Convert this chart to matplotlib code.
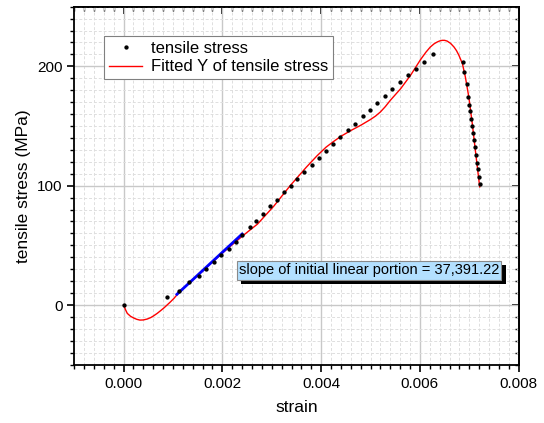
import numpy as np
import matplotlib
matplotlib.use("Agg")
import matplotlib.pyplot as plt
from matplotlib.ticker import MultipleLocator, FormatStrFormatter
import matplotlib.patheffects as pe

plt.rcParams['font.family'] = ['Liberation Sans', 'DejaVu Sans']

# measured points (strain, MPa)
strain = [0.0, 0.00087, 0.00112, 0.00132, 0.00152, 0.00167, 0.00183, 0.00198,
          0.00213, 0.00227, 0.0024, 0.00256, 0.00269, 0.00283, 0.00296,
          0.0031, 0.00325, 0.00339, 0.00352, 0.00366, 0.00381, 0.00395,
          0.0041, 0.00424, 0.00439, 0.00454, 0.00469, 0.00484, 0.00499,
          0.00513, 0.00529, 0.00544, 0.00559, 0.00575, 0.00592, 0.00609,
          0.00627, 0.00687, 0.0069, 0.00695, 0.00698, 0.007, 0.00701,
          0.00704, 0.00705, 0.00707, 0.00709, 0.00711, 0.00713, 0.00715,
          0.00717, 0.00719, 0.00721]
stress = [0.0, 6.7, 11.7, 19.0, 24.3, 29.8, 35.7, 41.8,
          47.0, 53.0, 59.0, 65.0, 70.8, 76.4, 82.6,
          88.4, 94.3, 99.8, 105.7, 111.5, 117.4, 123.0,
          128.9, 134.7, 140.6, 146.4, 152.0, 158.2, 163.8,
          169.6, 175.2, 180.8, 186.6, 192.5, 198.1, 203.9,
          210.0, 203.3, 195.0, 185.0, 174.3, 167.4, 162.6,
          156.2, 150.0, 144.2, 138.0, 132.2, 125.8, 119.4,
          113.6, 107.7, 101.8]

# fitted curve
fit_strain = [0.0, 0.00004, 0.000075, 0.00014, 0.00021, 0.00027, 0.00033,
              0.0004, 0.00048, 0.00055, 0.00061, 0.00068, 0.00075, 0.00082,
              0.00088, 0.00095, 0.00102, 0.00115, 0.00136, 0.00162, 0.00203,
              0.00243, 0.00271, 0.00304, 0.00338, 0.0037, 0.00392, 0.0041,
              0.00425, 0.0044, 0.0046, 0.0048, 0.005, 0.0051, 0.0052, 0.0053,
              0.0054, 0.00561, 0.00581, 0.00601, 0.00612, 0.00621, 0.00629,
              0.00635, 0.0064, 0.00645, 0.0065, 0.00655, 0.00662, 0.00669,
              0.00674, 0.00679, 0.00686, 0.00692, 0.00699, 0.00706, 0.00713,
              0.00721]
fit_stress = [0.0, -4.0, -7.0, -9.4, -11.0, -12.0, -12.6,
              -12.5, -11.7, -10.5, -9.0, -7.0, -4.7, -2.3,
              0.0, 2.7, 5.6, 12.0, 19.5, 29.3, 44.6,
              58.6, 67.8, 82.8, 100.4, 115.5, 125.2, 132.3,
              137.0, 141.4, 146.2, 150.6, 155.5, 158.3, 161.8, 166.3,
              171.5, 181.3, 192.5, 205.5, 211.8, 216.2, 219.0,
              220.4, 221.3, 221.8, 221.8, 221.2, 219.3, 216.2,
              213.2, 209.2, 202.3, 191.1, 174.3, 152.0, 126.9,
              99.0]

# linear portion
lin_strain = [0.00108, 0.0024]
lin_stress = [9.0, 59.5]
slope_text = "slope of initial linear portion = 37,391.22"

fig = plt.figure(figsize=(5.44, 4.23), dpi=100)
ax = fig.add_axes([0.1364, 0.1378, 0.8171, 0.8464])

ax.set_xlim(-0.001, 0.008)
ax.set_ylim(-50, 250)
ax.xaxis.set_major_locator(MultipleLocator(0.002))
ax.xaxis.set_minor_locator(MultipleLocator(0.0002))
ax.yaxis.set_major_locator(MultipleLocator(100))
ax.yaxis.set_minor_locator(MultipleLocator(10))
ax.xaxis.set_major_formatter(FormatStrFormatter('%.3f'))

ax.grid(which='major', color='#c8c8c8', lw=1.0, ls='-')
ax.grid(which='minor', color='#dedede', lw=0.7, ls=(0, (3, 2)))
ax.set_axisbelow(True)

ax.plot(fit_strain, fit_stress, color='red', lw=1.0, zorder=3,
        label='Fitted Y of tensile stress')
ax.plot(lin_strain, lin_stress, color='blue', lw=2.0, zorder=4)
ax.plot(strain, stress, ls='none', marker='o', ms=2.1, color='black', zorder=5,
        label='tensile stress')

for s in ax.spines.values():
    s.set_linewidth(1.3)
ax.tick_params(which='major', direction='out', length=5, width=1.2, labelsize=11)
ax.tick_params(which='minor', direction='out', length=3, width=1.0)

# mirrored ticks on top/right, pointing inward
sx = ax.secondary_xaxis('top')
sx.xaxis.set_major_locator(MultipleLocator(0.002))
sx.xaxis.set_minor_locator(MultipleLocator(0.0002))
sx.tick_params(which='major', direction='in', length=5, width=1.2, labeltop=False)
sx.tick_params(which='minor', direction='in', length=3, width=1.0)
sx.spines['top'].set_linewidth(1.3)
sy = ax.secondary_yaxis('right')
sy.yaxis.set_major_locator(MultipleLocator(100))
sy.yaxis.set_minor_locator(MultipleLocator(10))
sy.tick_params(which='major', direction='in', length=5, width=1.2, labelright=False)
sy.tick_params(which='minor', direction='in', length=3, width=1.0)
sy.spines['right'].set_linewidth(1.3)

ax.set_xlabel('strain', fontsize=12.5, labelpad=7)
ax.set_ylabel('tensile stress (MPa)', fontsize=12.5, labelpad=4)

handles, labels = ax.get_legend_handles_labels()
leg = ax.legend(handles[::-1], labels[::-1], loc='upper left',
                bbox_to_anchor=(0.067, 0.918), borderaxespad=0, fontsize=12,
                fancybox=False, framealpha=1, edgecolor='#808080',
                handlelength=2.0, handletextpad=0.5, borderpad=0.3,
                labelspacing=0.2)
leg.get_frame().set_linewidth(0.8)

t = ax.text(0.002335, 29, slope_text, fontsize=10.5, ha='left', va='center',
            zorder=6,
            bbox=dict(boxstyle='square,pad=0.15', facecolor='#b3e0ff',
                      edgecolor='#8a8a8a', lw=0.8))
t.get_bbox_patch().set_path_effects([
    pe.withSimplePatchShadow(offset=(3, -3), shadow_rgbFace='black', alpha=1.0)])

fig.savefig('out.png', dpi=100)
